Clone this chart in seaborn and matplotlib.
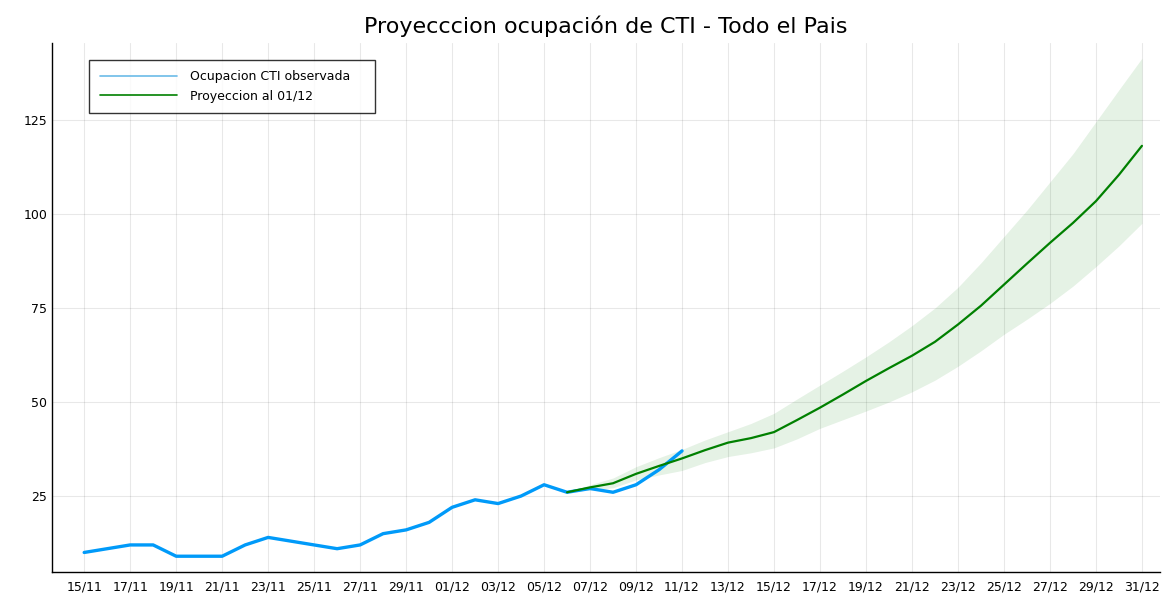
import numpy as np
import pandas as pd
import matplotlib
matplotlib.use("Agg")
import matplotlib.pyplot as plt
import matplotlib.dates as mdates
from matplotlib.ticker import NullLocator
import seaborn as sns

# observed ICU occupancy, 15/11 .. 11/12
obs_start = "2020-11-15"
obs_values = [10, 11, 12, 12, 9, 9, 9, 12, 14, 13, 12, 11, 12, 15, 16, 18,
              22, 24, 23, 25, 28, 26, 27, 26, 28, 32, 37]

# projection made on 01/12, 06/12 .. 31/12
proj_start = "2020-12-06"
proj_mean = [26, 27.3, 28.4, 30.9, 33, 35, 37.2, 39.2, 40.4, 42, 45.2, 48.5,
             52, 55.6, 59, 62.3, 66, 70.6, 75.6, 81.2, 86.8, 92.3, 97.6,
             103.4, 110.4, 118.1]
proj_upper = [26, 28, 29.8, 32.8, 35.2, 37.4, 39.9, 42.1, 44.3, 47, 50.8, 54.5,
              58.2, 62, 66, 70.3, 75, 80.5, 87, 94, 101, 108.5, 116, 124.5,
              133, 141.4]
proj_lower = [26, 26.6, 27.2, 29.3, 30.6, 31.8, 33.9, 35.5, 36.5, 37.8, 40.2,
              43, 45.3, 47.6, 50, 52.7, 55.8, 59.5, 63.6, 68, 72, 76.2, 80.8,
              86, 91.5, 97.5]

obs = pd.DataFrame({
    "fecha": pd.date_range(obs_start, periods=len(obs_values), freq="D"),
    "ocupacion": obs_values,
})
proj = pd.DataFrame({
    "fecha": pd.date_range(proj_start, periods=len(proj_mean), freq="D"),
    "media": proj_mean,
    "sup": proj_upper,
    "inf": proj_lower,
})

sns.set_style("white")
plt.rcParams["font.family"] = ["DejaVu Sans"]

fig = plt.figure(figsize=(11.63, 5.94), dpi=100)
ax = fig.add_axes([0.0447, 0.037, 0.953, 0.891])

ax.fill_between(proj["fecha"], proj["inf"], proj["sup"],
                color="green", alpha=0.1, linewidth=0)
sns.lineplot(data=obs, x="fecha", y="ocupacion", ax=ax, color="#009AF9",
             linewidth=2.4, label="Ocupacion CTI observada")
sns.lineplot(data=proj, x="fecha", y="media", ax=ax, color="green",
             linewidth=1.6, label="Proyeccion al 01/12")

ticks = pd.date_range(obs_start, "2020-12-31", freq="2D")
ax.set_xticks(ticks)
ax.xaxis.set_major_formatter(mdates.DateFormatter("%d/%m"))
ax.xaxis.set_minor_locator(NullLocator())
ax.yaxis.set_minor_locator(NullLocator())
ax.set_xlim(pd.Timestamp(obs_start) - pd.Timedelta(days=1.4),
            pd.Timestamp(obs_start) + pd.Timedelta(days=46.8))
ax.set_ylim(4.8, 145.5)
ax.set_yticks([25, 50, 75, 100, 125])

ax.grid(True, which="major", color="#000000", alpha=0.09, linewidth=0.8)
for s in ["top", "right"]:
    ax.spines[s].set_visible(False)
for s in ["left", "bottom"]:
    ax.spines[s].set_color("black")
    ax.spines[s].set_linewidth(1.0)
ax.tick_params(direction="in", length=5, width=1, labelsize=9, colors="black")
ax.tick_params(axis="x", pad=6)
ax.set_xlabel("")
ax.set_ylabel("")
ax.set_title("Proyecccion ocupación de CTI - Todo el Pais", fontsize=16,
             pad=7, color="black")

leg = ax.legend(loc="upper left", bbox_to_anchor=(0.0334, 0.968, 0.258, 0.0),
                mode="expand", borderaxespad=0, fontsize=9, frameon=True,
                fancybox=False, handlelength=6.2, handletextpad=1.0,
                borderpad=0.85, labelspacing=0.5)
leg.get_frame().set_edgecolor("black")
leg.get_frame().set_linewidth(1.0)
for line in leg.get_lines():
    line.set_linewidth(1.2)
leg.get_lines()[0].set_color("#6BBBE8")
for t in leg.get_texts():
    t.set_color("black")

fig.savefig("out.png", dpi=100)
